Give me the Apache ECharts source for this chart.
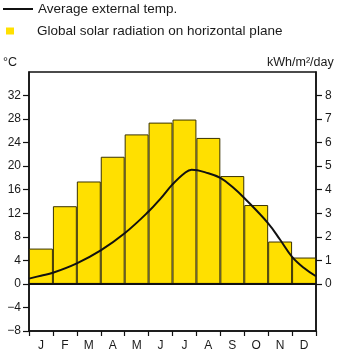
<!DOCTYPE html>
<html>
<head>
<meta charset="utf-8">
<script src="https://cdn.jsdelivr.net/npm/echarts@6/dist/echarts.min.js"></script>
<style>html,body{margin:0;padding:0;background:#fff}#c{width:350px;height:363px}</style>
</head>
<body>
<div id="c"></div>
<script>
const months = ['J','F','M','A','M','J','J','A','S','O','N','D'];
const solar = [1.5, 3.3, 4.35, 5.4, 6.35, 6.85, 6.98, 6.2, 4.58, 3.35, 1.8, 1.12];
const tempPos = [0, 0.5, 1, 2, 3, 4, 5, 5.5, 6, 6.5, 6.8, 7.5, 8, 8.5, 9, 10, 10.5, 11, 11.5, 12];
const temp = [0.9, 1.4, 1.9, 3.5, 5.7, 8.6, 12.3, 14.5, 16.9, 18.8, 19.4, 18.8, 18.0, 16.5, 14.6, 10.3, 7.5, 4.6, 2.7, 1.3];
const leftTicks = [-8, -4, 0, 4, 8, 12, 16, 20, 24, 28, 32];
const rightTicks = [0, 1, 2, 3, 4, 5, 6, 7, 8];

const FONT = 'Liberation Sans';
const TXT = '#1a1a1a';
const chart = echarts.init(document.getElementById('c'), null, {renderer: 'canvas'});
chart.setOption({
  backgroundColor: '#ffffff',
  animation: false,
  textStyle: {fontFamily: FONT},
  legend: [
    {
      data: ['Average external temp.'],
      left: 3, top: 2, padding: 0,
      icon: 'rect', itemWidth: 30, itemHeight: 2,
      textStyle: {fontFamily: FONT, fontSize: 13.5, color: TXT}
    },
    {
      data: ['Global solar radiation on horizontal plane'],
      left: 6, top: 24, padding: 0,
      icon: 'rect', itemWidth: 8, itemHeight: 7,
      itemStyle: {borderWidth: 0},
      textStyle: {fontFamily: FONT, fontSize: 13.5, color: TXT, padding: [0, 0, 0, 18]}
    }
  ],
  graphic: [
    {type: 'text', left: 3, top: 56, style: {text: '°C', font: '12.5px "Liberation Sans"', fill: TXT}},
    {type: 'text', left: 267, top: 56, style: {text: 'kWh/m²/day', font: '12.5px "Liberation Sans"', fill: TXT}}
  ],
  grid: {left: 29, right: 34, top: 72, bottom: 32, show: true, borderColor: '#111', borderWidth: 1.5, backgroundColor: 'transparent'},
  xAxis: [
    {
      type: 'category', data: months, boundaryGap: true, position: 'bottom',
      axisLine: {onZero: false, lineStyle: {color: '#111', width: 1.5}},
      axisTick: {show: true, length: 5, lineStyle: {color: '#111', width: 1.2}},
      axisLabel: {fontFamily: FONT, fontSize: 12, color: TXT, margin: 9},
      splitLine: {show: false}
    },
    {type: 'value', min: 0, max: 12, show: false}
  ],
  yAxis: [
    {
      type: 'value', min: -8, max: 36, interval: 4, position: 'left',
      axisLine: {show: true, lineStyle: {color: '#111', width: 1.5}},
      axisTick: {show: true, length: 6, customValues: leftTicks, lineStyle: {color: '#111', width: 1.2}},
      axisLabel: {customValues: leftTicks, fontFamily: FONT, fontSize: 12, color: TXT, margin: 8,
        formatter: v => String(v).replace('-', '\u2212')},
      splitLine: {show: false}
    },
    {
      type: 'value', min: -2, max: 9, interval: 1, position: 'right',
      axisLine: {show: true, lineStyle: {color: '#111', width: 1.5}},
      axisTick: {show: true, length: 6, customValues: rightTicks, lineStyle: {color: '#111', width: 1.2}},
      axisLabel: {customValues: rightTicks, fontFamily: FONT, fontSize: 12, color: TXT, margin: 9},
      splitLine: {show: false}
    }
  ],
  series: [
    {
      name: 'Global solar radiation on horizontal plane',
      type: 'bar', data: solar, xAxisIndex: 0, yAxisIndex: 1,
      barCategoryGap: '0%',
      itemStyle: {color: '#FFE000', borderColor: '#3a3200', borderWidth: 1},
      markLine: {
        silent: true, symbol: 'none', label: {show: false},
        lineStyle: {color: '#111', width: 2, type: 'solid'},
        data: [{yAxis: 0}]
      },
      z: 2
    },
    {
      name: 'Average external temp.',
      type: 'line', xAxisIndex: 1, yAxisIndex: 0,
      data: tempPos.map((p, i) => [p, temp[i]]),
      smooth: 0.4, showSymbol: false, symbol: 'none',
      lineStyle: {color: '#111', width: 2},
      itemStyle: {color: '#111'},
      z: 5
    }
  ]
});
</script>
</body>
</html>
